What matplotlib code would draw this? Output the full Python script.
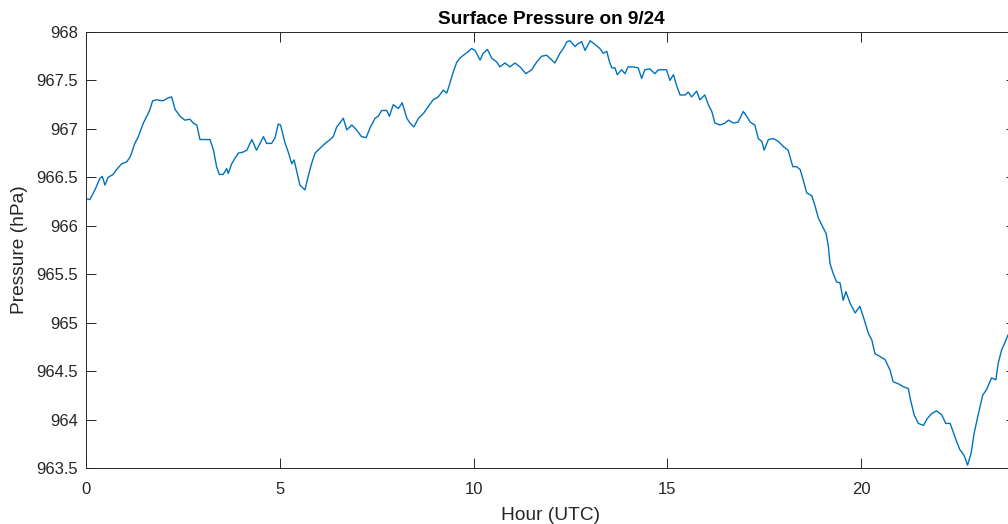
import matplotlib
matplotlib.use("Agg")
from matplotlib import pyplot as plt

# surface pressure trace, hour (UTC) vs hPa
hours = [
    0.00, 0.10, 0.23, 0.36, 0.42, 0.49, 0.57, 0.70, 0.79, 0.92,
    1.05, 1.14, 1.26, 1.35, 1.48, 1.57, 1.65, 1.72, 1.82, 1.99,
    2.12, 2.21, 2.30, 2.43, 2.55, 2.68, 2.77, 2.86, 2.94, 3.07,
    3.20, 3.29, 3.37, 3.44, 3.54, 3.63, 3.67, 3.76, 3.85, 3.93,
    4.05, 4.15, 4.28, 4.40, 4.58, 4.66, 4.79, 4.88, 4.96, 5.02,
    5.14, 5.22, 5.31, 5.37, 5.44, 5.52, 5.65, 5.74, 5.82, 5.91,
    6.04, 6.17, 6.30, 6.38, 6.47, 6.55, 6.64, 6.73, 6.86, 6.98,
    7.11, 7.23, 7.33, 7.46, 7.54, 7.63, 7.76, 7.83, 7.93, 8.06,
    8.16, 8.28, 8.36, 8.46, 8.58, 8.71, 8.83, 8.96, 9.09, 9.22,
    9.31, 9.39, 9.48, 9.57, 9.65, 9.74, 9.87, 9.95, 10.04, 10.17,
    10.25, 10.36, 10.47, 10.60, 10.68, 10.81, 10.94, 11.07, 11.20, 11.35,
    11.50, 11.63, 11.76, 11.89, 12.02, 12.10, 12.23, 12.32, 12.41, 12.49,
    12.62, 12.70, 12.79, 12.88, 13.01, 13.14, 13.26, 13.35, 13.44, 13.51,
    13.57, 13.65, 13.71, 13.82, 13.91, 13.99, 14.12, 14.25, 14.34, 14.42,
    14.55, 14.68, 14.77, 14.90, 14.98, 15.07, 15.16, 15.24, 15.33, 15.46,
    15.54, 15.63, 15.76, 15.84, 15.97, 16.06, 16.15, 16.23, 16.36, 16.49,
    16.58, 16.71, 16.83, 16.96, 17.05, 17.14, 17.26, 17.35, 17.44, 17.50,
    17.61, 17.74, 17.87, 17.99, 18.12, 18.17, 18.24, 18.34, 18.43, 18.51,
    18.60, 18.73, 18.81, 18.90, 19.01, 19.10, 19.16, 19.20, 19.28, 19.37,
    19.46, 19.54, 19.61, 19.72, 19.85, 19.97, 20.06, 20.19, 20.28, 20.36,
    20.49, 20.62, 20.75, 20.83, 20.96, 21.09, 21.22, 21.28, 21.37, 21.48,
    21.61, 21.71, 21.82, 21.95, 22.08, 22.19, 22.30, 22.38, 22.47, 22.55,
    22.66, 22.75, 22.84, 22.92, 23.03, 23.14, 23.24, 23.37, 23.48, 23.54,
    23.63, 23.72, 23.79,
]
pressure = [
    966.28, 966.27, 966.37, 966.49, 966.51, 966.42, 966.50, 966.53, 966.58, 966.64,
    966.66, 966.71, 966.85, 966.92, 967.06, 967.13, 967.20, 967.29, 967.30, 967.29,
    967.32, 967.33, 967.20, 967.13, 967.09, 967.10, 967.06, 967.04, 966.89, 966.89,
    966.89, 966.78, 966.61, 966.53, 966.53, 966.59, 966.54, 966.64, 966.70, 966.75,
    966.76, 966.78, 966.89, 966.78, 966.92, 966.85, 966.85, 966.91, 967.05, 967.04,
    966.85, 966.76, 966.64, 966.68, 966.56, 966.42, 966.37, 966.52, 966.64, 966.75,
    966.80, 966.85, 966.89, 966.92, 967.02, 967.06, 967.11, 966.99, 967.04, 966.99,
    966.92, 966.91, 967.01, 967.11, 967.13, 967.19, 967.19, 967.13, 967.25, 967.21,
    967.27, 967.11, 967.06, 967.02, 967.11, 967.16, 967.23, 967.30, 967.33, 967.40,
    967.37, 967.47, 967.59, 967.69, 967.73, 967.76, 967.80, 967.83, 967.81, 967.71,
    967.78, 967.82, 967.73, 967.69, 967.64, 967.68, 967.64, 967.68, 967.64, 967.57,
    967.61, 967.69, 967.75, 967.76, 967.71, 967.68, 967.78, 967.83, 967.90, 967.91,
    967.85, 967.88, 967.90, 967.81, 967.91, 967.87, 967.83, 967.78, 967.80, 967.69,
    967.63, 967.63, 967.56, 967.61, 967.57, 967.64, 967.64, 967.63, 967.52, 967.61,
    967.62, 967.57, 967.61, 967.61, 967.61, 967.50, 967.56, 967.45, 967.35, 967.35,
    967.38, 967.33, 967.39, 967.30, 967.35, 967.25, 967.18, 967.06, 967.04, 967.06,
    967.09, 967.06, 967.07, 967.18, 967.13, 967.07, 967.04, 966.90, 966.87, 966.78,
    966.89, 966.90, 966.87, 966.82, 966.78, 966.71, 966.61, 966.61, 966.58, 966.47,
    966.34, 966.31, 966.21, 966.08, 965.99, 965.92, 965.78, 965.61, 965.51, 965.42,
    965.41, 965.23, 965.32, 965.20, 965.10, 965.17, 965.06, 964.89, 964.82, 964.68,
    964.65, 964.62, 964.51, 964.39, 964.37, 964.34, 964.32, 964.20, 964.05, 963.96,
    963.94, 964.01, 964.06, 964.09, 964.05, 963.96, 963.96, 963.87, 963.77, 963.69,
    963.63, 963.53, 963.65, 963.86, 964.06, 964.25, 964.31, 964.43, 964.41, 964.58,
    964.72, 964.80, 964.87,
]

x_ticks = [0, 5, 10, 15, 20]
y_ticks = [963.5, 964, 964.5, 965, 965.5, 966, 966.5, 967, 967.5, 968]
y_tick_labels = ["963.5", "964", "964.5", "965", "965.5", "966", "966.5", "967", "967.5", "968"]

plt.rcParams["font.family"] = ["Liberation Sans", "DejaVu Sans"]
ink = "#262626"

fig = plt.figure(figsize=(10.08, 5.24), dpi=100)
# the axes run a little past the right edge of the figure (x = 24 is clipped)
ax = fig.add_axes([86 / 1008, 1 - 468 / 524, 930 / 1008, 436 / 524])

ax.plot(hours, pressure, color="#0072BD", linewidth=1.0)

ax.set_xlim(0, 24)
ax.set_ylim(963.5, 968)
ax.set_xticks(x_ticks)
ax.set_yticks(y_ticks)
ax.set_yticklabels(y_tick_labels)
ax.tick_params(direction="in", length=7, width=0.7, colors=ink, labelsize=12,
               top=True, right=True)
ax.tick_params(axis="x", pad=10)
ax.tick_params(axis="y", pad=6)
for spine in ax.spines.values():
    spine.set_color(ink)
    spine.set_linewidth(0.7)

ax.set_title("Surface Pressure on 9/24", fontsize=13.7, fontweight="bold", color="black", pad=6)
ax.set_xlabel("Hour (UTC)", fontsize=13.8, color=ink, labelpad=7)
ax.set_ylabel("Pressure (hPa)", fontsize=13.8, color=ink, labelpad=6)

fig.savefig("out.png", dpi=100)
